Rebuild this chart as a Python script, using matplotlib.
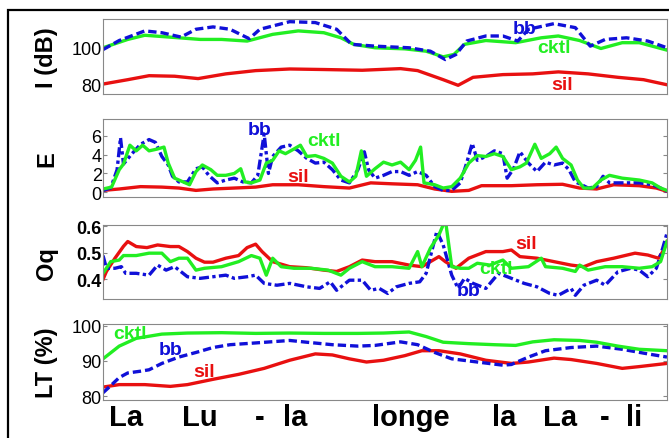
import matplotlib
matplotlib.use('Agg')
import matplotlib.pyplot as plt
from matplotlib.patches import Rectangle

plt.rcParams['font.family'] = ['Liberation Sans', 'DejaVu Sans']

# time axis in frames (0 .. 1323)
# ---- I (dB) ----
i_cktl_t = [0, 58, 98, 178, 228, 278, 338, 398, 458, 518, 558, 588, 638, 708, 758, 798, 823, 848,
            898, 968, 1028, 1068, 1118, 1168, 1218, 1258, 1323]
i_cktl = [100, 104.6, 106.9, 105.5, 104.6, 104.6, 103.7, 107.4, 109.3, 108.3, 105.5, 101.9, 100,
          99.4, 98.1, 95, 96.3, 101.9, 104, 102.8, 105.5, 106.5, 104, 99.6, 102.8, 102.8, 98.7]
i_bb_t = [0, 38, 98, 138, 183, 218, 258, 298, 343, 368, 438, 498, 548, 583, 638, 718, 768, 803,
          828, 853, 898, 938, 973, 998, 1058, 1108, 1143, 1178, 1228, 1278, 1323]
i_bb = [99, 104, 109.3, 108.3, 105.9, 110.2, 111.5, 110.2, 105, 110.2, 114.4, 113.9, 110.2, 101.9,
        100.9, 100, 98.1, 93.5, 96.3, 103.7, 106.5, 106.5, 103.7, 110.2, 113.3, 111.1, 100.9, 104.6,
        105.5, 103.7, 100]
i_sil_t = [0, 58, 108, 168, 223, 288, 358, 438, 518, 608, 698, 738, 798, 833, 868, 938, 1008,
           1068, 1138, 1208, 1268, 1323]
i_sil = [80, 82.4, 84.6, 84.3, 83, 85.6, 87.4, 88.3, 88, 87.6, 88.5, 87.4, 82.4, 79.3, 83.7, 85.2,
         85.6, 86.7, 85.6, 83.7, 82.4, 79.6]

# ---- E ----
e_bb_t = [0, 18, 33, 41, 48, 68, 88, 108, 123, 138, 153, 163, 178, 198, 218, 233, 248, 268, 288,
          308, 328, 348, 363, 378, 388, 398, 418, 438, 458, 478, 498, 518, 538, 558, 578, 598, 613,
          623, 638, 658, 678, 698, 718, 738, 758, 778, 798, 818, 838, 853, 866, 878, 898, 918, 938,
          948, 963, 978, 998, 1018, 1038, 1058, 1078, 1093, 1108, 1123, 1138, 1158, 1173, 1188,
          1218, 1258, 1288, 1308, 1323]
e_bb = [0.2, 0.45, 2.4, 5.8, 3.0, 4.1, 5.1, 5.6, 5.3, 3.8, 2.9, 1.7, 1.1, 1.1, 2.5, 2.7, 1.8, 1.0,
        1.3, 1.5, 1.1, 1.0, 1.8, 6.2, 2.0, 3.8, 4.8, 5.0, 4.4, 3.6, 3.1, 3.2, 2.4, 1.3, 1.0, 2.4, 4.3,
        2.4, 1.5, 1.8, 2.2, 2.2, 1.8, 2.2, 1.8, 0.6, 0.2, 0.2, 1.0, 3.1, 5.2, 3.4, 3.8, 4.4, 4.1, 1.5,
        2.5, 4.3, 3.1, 2.2, 3.2, 2.9, 3.1, 2.4, 1.1, 0.8, 0.45, 0.6, 1.7, 1.0, 1.0, 1.0, 0.8, 0.45,
        0.1]
e_cktl_t = [0, 20, 38, 48, 63, 78, 93, 108, 128, 143, 153, 168, 188, 203, 218, 233, 253, 268, 288,
            308, 323, 333, 348, 368, 383, 398, 413, 428, 448, 463, 478, 498, 518, 538, 558, 578, 593,
            606, 618, 638, 658, 678, 698, 718, 733, 745, 753, 778, 798, 818, 838, 858, 878, 898, 918,
            938, 958, 978, 993, 1013, 1028, 1048, 1063, 1078, 1098, 1113, 1128, 1148, 1168, 1188,
            1218, 1258, 1288, 1308, 1323]
e_cktl = [0.35, 0.55, 2.4, 3.0, 5.0, 4.4, 5.0, 4.4, 4.6, 4.8, 3.1, 1.5, 1.1, 0.8, 2.2, 2.9, 2.4,
          1.8, 1.8, 2.0, 2.5, 1.1, 1.0, 1.3, 3.1, 3.4, 4.4, 4.1, 4.6, 5.0, 3.8, 3.9, 3.6, 3.1, 1.7,
          1.1, 1.7, 4.4, 1.7, 2.5, 3.2, 2.9, 3.2, 2.4, 3.4, 4.8, 1.0, 0.8, 0.45, 0.6, 1.5, 3.1, 3.9,
          3.8, 4.1, 3.8, 2.4, 2.7, 3.1, 5.1, 3.6, 4.1, 4.8, 3.6, 2.9, 1.3, 0.45, 0.45, 1.3, 1.8, 1.5,
          1.3, 1.0, 0.45, 0.2]
e_sil_t = [0, 38, 88, 138, 178, 218, 258, 308, 358, 398, 458, 518, 578, 628, 678, 738, 778, 818,
           858, 888, 958, 1018, 1078, 1118, 1158, 1198, 1258, 1298, 1323]
e_sil = [0.2, 0.35, 0.6, 0.55, 0.45, 0.2, 0.35, 0.45, 0.55, 0.8, 0.8, 0.6, 0.45, 1.0, 0.9, 0.8,
         0.35, 0.1, 0.2, 0.7, 0.7, 0.8, 0.85, 0.45, 0.35, 0.8, 0.7, 0.45, 0.1]

# ---- Oq ----
oq_sil_t = [0, 8, 28, 48, 58, 78, 103, 128, 158, 178, 198, 218, 238, 258, 288, 318, 338, 358, 373,
            398, 438, 478, 518, 548, 578, 608, 638, 678, 718, 748, 768, 788, 803, 828, 858, 898,
            938, 958, 978, 1018, 1058, 1098, 1128, 1158, 1198, 1248, 1278, 1303, 1313, 1323]
oq_sil = [0.40, 0.43, 0.48, 0.525, 0.543, 0.524, 0.52, 0.53, 0.524, 0.524, 0.505, 0.48, 0.465,
          0.465, 0.48, 0.49, 0.52, 0.533, 0.505, 0.467, 0.448, 0.444, 0.435, 0.43, 0.448, 0.473,
          0.467, 0.467, 0.454, 0.448, 0.467, 0.486, 0.467, 0.442, 0.48, 0.505, 0.505, 0.511, 0.486,
          0.48, 0.467, 0.454, 0.448, 0.467, 0.48, 0.499, 0.492, 0.48, 0.505, 0.543]
oq_cktl_t = [0, 18, 38, 48, 78, 108, 138, 158, 178, 198, 218, 238, 278, 318, 348, 368, 383, 398,
             418, 448, 488, 528, 558, 578, 608, 638, 678, 718, 738, 748, 768, 788, 803, 808, 818,
             838, 858, 878, 908, 938, 958, 998, 1028, 1038, 1078, 1108, 1118, 1138, 1178, 1218,
             1258, 1288, 1308, 1323]
oq_cktl = [0.423, 0.467, 0.473, 0.49, 0.49, 0.499, 0.499, 0.467, 0.48, 0.48, 0.435, 0.442, 0.448,
           0.467, 0.49, 0.48, 0.416, 0.48, 0.448, 0.442, 0.442, 0.435, 0.416, 0.442, 0.467, 0.448,
           0.448, 0.442, 0.505, 0.448, 0.518, 0.568, 0.625, 0.568, 0.448, 0.442, 0.442, 0.461,
           0.454, 0.473, 0.442, 0.448, 0.48, 0.448, 0.442, 0.43, 0.454, 0.435, 0.448, 0.448, 0.442,
           0.448, 0.467, 0.543]
oq_bb_t = [0, 8, 28, 43, 53, 78, 108, 128, 148, 168, 198, 228, 258, 288, 308, 338, 358, 378, 408,
           438, 478, 508, 533, 548, 578, 608, 628, 648, 668, 688, 718, 743, 758, 773, 783, 798,
           818, 833, 848, 868, 898, 928, 958, 988, 1018, 1048, 1068, 1098, 1108, 1128, 1158, 1178,
           1208, 1238, 1258, 1278, 1298, 1313, 1323]
oq_bb = [0.49, 0.442, 0.442, 0.448, 0.423, 0.423, 0.416, 0.454, 0.435, 0.448, 0.41, 0.404, 0.41,
         0.416, 0.404, 0.41, 0.416, 0.385, 0.378, 0.385, 0.372, 0.366, 0.391, 0.359, 0.397, 0.397,
         0.359, 0.366, 0.347, 0.372, 0.385, 0.391, 0.423, 0.518, 0.581, 0.53, 0.416, 0.366, 0.404,
         0.385, 0.366, 0.423, 0.404, 0.385, 0.372, 0.347, 0.34, 0.366, 0.34, 0.378, 0.397, 0.378,
         0.429, 0.442, 0.435, 0.41, 0.442, 0.518, 0.575]

# ---- LT (%) ----
lt_cktl_t = [0, 38, 78, 138, 198, 278, 358, 438, 518, 598, 658, 718, 758, 798, 858, 918, 968,
             1008, 1058, 1118, 1158, 1208, 1258, 1323]
lt_cktl = [90.6, 94.2, 96.4, 97.6, 97.9, 98, 97.8, 97.9, 97.8, 97.8, 97.9, 98.2, 96.9, 95.3, 94.9,
           94.6, 94.4, 95.4, 96, 95.8, 95.3, 94.2, 93.3, 92.9]
lt_bb_t = [0, 18, 38, 58, 88, 108, 138, 178, 218, 258, 298, 358, 438, 478, 538, 598, 638, 698,
           738, 778, 818, 878, 938, 958, 998, 1038, 1098, 1158, 1218, 1278, 1323]
lt_bb = [81, 83, 85.3, 86.6, 87.1, 87.5, 89.3, 91.1, 92.4, 93.8, 94.6, 95.1, 95.8, 95.3, 94.6,
         94.2, 94.4, 95.4, 94.6, 92.4, 90.6, 89.7, 88.8, 89, 91.1, 92.9, 93.8, 94.2, 93.3, 92,
         91.1]
lt_sil_t = [0, 38, 98, 158, 198, 258, 318, 378, 438, 498, 538, 578, 618, 658, 708, 748, 788, 838,
            898, 958, 998, 1058, 1098, 1158, 1218, 1258, 1323]
lt_sil = [82.6, 83.3, 83.3, 82.8, 83.3, 84.8, 86.2, 87.9, 90.2, 92, 91.7, 90.6, 89.7, 90.2, 91.5,
          92.9, 92.9, 92, 90.2, 89.3, 89.7, 90.8, 90.4, 89.3, 87.9, 88.4, 89.3]

syllables = ['La', 'Lu', '-', 'la', 'longe', 'la', 'La', '-', 'li']
syllable_t = [55, 228, 368, 450, 723, 940, 1073, 1178, 1245]

RED = '#e81010'
GREEN = '#22ee22'
BLUE = '#1010d8'


def style_axis(ax, ylabel, yticks, ylim, bold_ticks=False):
    ax.set_xlim(0, 1323)
    ax.set_ylim(*ylim)
    ax.set_yticks(yticks)
    for s in ax.spines.values():
        s.set_color('#888888')
        s.set_linewidth(0.8)
    ax.tick_params(axis='y', direction='in', length=3, color='#888888', right=True,
                   labelsize=13, pad=1)
    ax.tick_params(axis='x', length=0)
    if bold_ticks:
        for lab in ax.get_yticklabels():
            lab.set_fontweight('bold')
    ax.set_xticks([])
    ax.set_ylabel(ylabel, fontsize=17, fontweight='bold', labelpad=4)
    ax.yaxis.set_label_coords(-0.08, 0.5)


fig = plt.figure(figsize=(6.69, 4.39), dpi=100)
fig.patches.append(Rectangle((0.012, -0.2), 1.2, 1.175, transform=fig.transFigure,
                             fill=False, edgecolor='black', linewidth=1.6))

ax1 = fig.add_axes([0.154, 0.784, 0.843, 0.171])
ax2 = fig.add_axes([0.154, 0.549, 0.843, 0.178])
ax3 = fig.add_axes([0.154, 0.316, 0.843, 0.169])
ax4 = fig.add_axes([0.154, 0.087, 0.843, 0.173])

lw = 2.4
dash = (0, (2.5, 1.2))
dashdot = (0, (3, 1, 1, 1))
# I (dB)
ax1.plot(i_sil_t, i_sil, color=RED, lw=lw)
ax1.plot(i_cktl_t, i_cktl, color=GREEN, lw=lw)
ax1.plot(i_bb_t, i_bb, color=BLUE, lw=lw, ls=dash)
ax1.text(988, 110.5, 'bb', color=BLUE, fontsize=14, fontweight='bold', ha='center', va='center')
ax1.text(1058, 100, 'cktl', color=GREEN, fontsize=14, fontweight='bold', ha='center', va='center')
ax1.text(1078, 80, 'sil', color=RED, fontsize=14, fontweight='bold', ha='center', va='center')
style_axis(ax1, 'I (dB)', [80, 100], (74.6, 116))

# E
ax2.plot(e_sil_t, e_sil, color=RED, lw=lw)
ax2.plot(e_bb_t, e_bb, color=BLUE, lw=lw, ls=dashdot)
ax2.plot(e_cktl_t, e_cktl, color=GREEN, lw=lw)
ax2.text(368, 6.7, 'bb', color=BLUE, fontsize=14, fontweight='bold', ha='center', va='center')
ax2.text(518, 5.5, 'cktl', color=GREEN, fontsize=14, fontweight='bold', ha='center', va='center')
ax2.text(458, 1.7, 'sil', color=RED, fontsize=14, fontweight='bold', ha='center', va='center')
style_axis(ax2, 'E', [0, 2, 4, 6], (-0.5, 7.8))

# Oq
ax3.plot(oq_sil_t, oq_sil, color=RED, lw=lw)
ax3.plot(oq_bb_t, oq_bb, color=BLUE, lw=lw, ls=dashdot)
ax3.plot(oq_cktl_t, oq_cktl, color=GREEN, lw=lw)
ax3.text(993, 0.537, 'sil', color=RED, fontsize=14, fontweight='bold', ha='center', va='center')
ax3.text(923, 0.442, 'cktl', color=GREEN, fontsize=14, fontweight='bold', ha='center', va='center')
ax3.text(858, 0.36, 'bb', color=BLUE, fontsize=14, fontweight='bold', ha='center', va='center')
style_axis(ax3, 'Oq', [0.4, 0.5, 0.6], (0.325, 0.605), bold_ticks=True)

# LT (%)
ax4.plot(lt_sil_t, lt_sil, color=RED, lw=lw)
ax4.plot(lt_bb_t, lt_bb, color=BLUE, lw=lw, ls=dash)
ax4.plot(lt_cktl_t, lt_cktl, color=GREEN, lw=lw)
ax4.text(63, 97.8, 'cktl', color=GREEN, fontsize=14, fontweight='bold', ha='center', va='center')
ax4.text(158, 93.3, 'bb', color=BLUE, fontsize=14, fontweight='bold', ha='center', va='center')
ax4.text(238, 87, 'sil', color=RED, fontsize=14, fontweight='bold', ha='center', va='center')
style_axis(ax4, 'LT (%)', [80, 90, 100], (79, 100.5))
ax4.set_xticks(syllable_t)
ax4.set_xticklabels(syllables, fontsize=21, fontweight='bold')
ax4.tick_params(axis='x', length=0, pad=2)

fig.savefig('out.png', dpi=100)
